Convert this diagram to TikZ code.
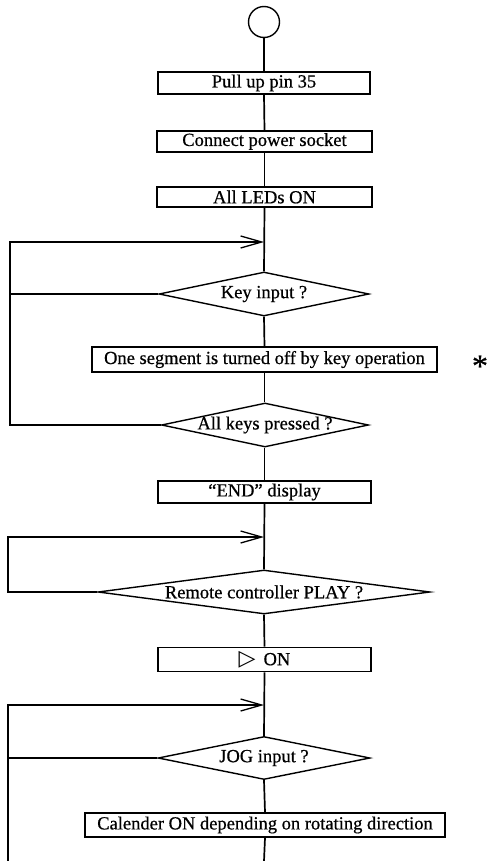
\documentclass[tikz,border=0pt]{standalone}
\usepackage{fontspec}
\setmainfont{Liberation Serif}[FakeBold=0.6]
\newfontfamily\djv{DejaVu Sans}
\usetikzlibrary{shapes.geometric,arrows.meta}
\begin{document}
\begin{tikzpicture}[x=1pt,y=-1pt,
  every node/.style={font=\fontsize{18.5}{21}\selectfont, inner sep=0pt},
  flow/.style={line width=1.7pt},
  procbox/.style={draw, line width=1.6pt, rectangle},
  decision/.style={draw, line width=1.4pt, diamond, aspect=6},
  loopin/.style={line width=1.7pt, -{Straight Barb[length=21pt,width=12pt,line width=1.3pt]}}
]
\useasboundingbox (0,0) rectangle (489,861);
\node[draw, circle, line width=1.4pt, minimum size=31pt] (start) at (264,22) {};
\node[procbox, minimum width=212pt, minimum height=22pt] (b1) at (264,83) {Pull up pin 35};
\node[procbox, minimum width=215pt, minimum height=21pt] (b2) at (264.5,141.5) {Connect power socket};
\node[procbox, minimum width=215pt, minimum height=20pt] (b3) at (264.5,197) {All LEDs ON};
\coordinate (j1) at (264,242);
\node[decision, minimum width=210pt, minimum height=44pt] (d1) at (264,294) {};
\node (t1) at (d1.center) {Key input ?};
\node[procbox, minimum width=345pt, minimum height=25pt] (b4) at (264.5,359.5) {One segment is turned off by key operation};
\node[font=\fontsize{32}{32}\selectfont] (star) at (480,366) {*};
\node[decision, minimum width=207pt, minimum height=44pt] (d2) at (265,425) {};
\node (t2) at (d2.center) {All keys pressed ?};
\node[procbox, minimum width=213pt, minimum height=22pt] (b5) at (264.5,492) {“END” display};
\coordinate (j2) at (264,537);
\node[decision, minimum width=332pt, minimum height=44pt] (d3) at (264,592) {};
\node (t3) at (d3.center) {Remote controller PLAY ?};
\node[procbox, minimum width=213pt, minimum height=24pt] (b6) at (264.5,659.5) {{\djv\fontsize{22}{22}\selectfont ▷}\hspace{8pt}ON};
\coordinate (j3) at (264,705);
\node[decision, minimum width=212pt, minimum height=43pt] (d4) at (264,758) {};
\node (t4) at (d4.center) {JOG input ?};
\node[procbox, minimum width=360pt, minimum height=24pt] (b7) at (265,825) {Calender ON depending on rotating direction};
\coordinate (fin) at (264,861);
\coordinate (l1) at (10,242);
\coordinate (l2) at (10,425);
\coordinate (l3) at (10,294);
\coordinate (m1) at (8,537);
\coordinate (m2) at (8,592);
\coordinate (n1) at (8,705);
\coordinate (n2) at (8,758);
\coordinate (n3) at (8,861);
% main flow
\draw[flow] (start.south) -- (b1.north);
\draw[flow] (b1.south) -- (b2.north);
\draw[flow] (b2.south) -- (b3.north);
\draw[flow] (b3.south) -- (d1.north);
\draw[flow] (d1.south) -- (b4.north);
\draw[flow] (b4.south) -- (b4.south |- d2.north);
\draw[flow] (b4.south |- d2.south) -- (b5.north);
\draw[flow] (b5.south) -- (d3.north);
\draw[flow] (d3.south) -- (b6.north);
\draw[flow] (b6.south) -- (d4.north);
\draw[flow] (d4.south) -- (b7.north);
\draw[flow] (b7.south) -- (fin);
% loops
\draw[loopin] (d2.west) -- (l2) -- (l1) -- (j1);
\draw[flow] (d1.west) -- (l3);
\draw[loopin] (d3.west) -- (m2) -- (m1) -- (j2);
\draw[loopin] (n3) -- (n1) -- (j3);
\draw[flow] (d4.west) -- (n2);
\end{tikzpicture}
\end{document}
